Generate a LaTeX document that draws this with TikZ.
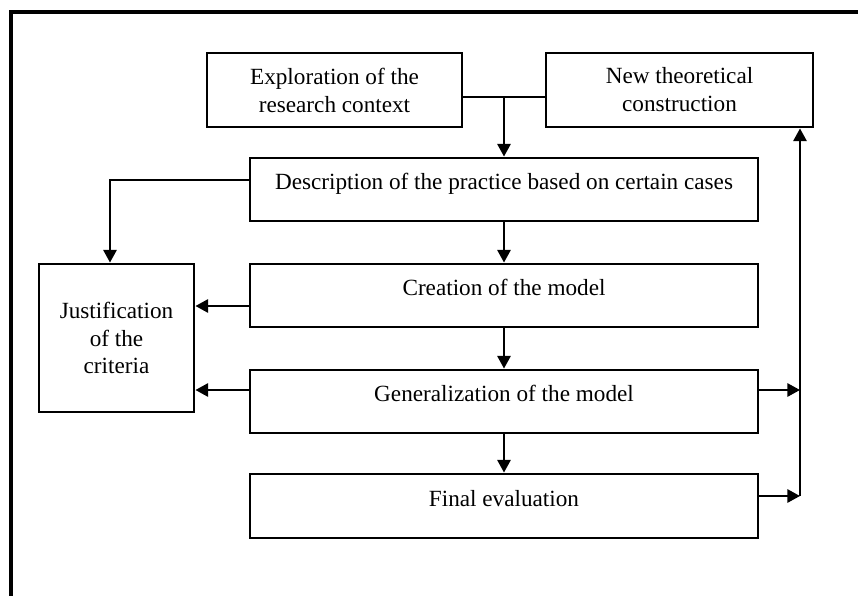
\documentclass[tikz,border=0pt]{standalone}
\usepackage{fontspec}
\setmainfont{Liberation Serif}
\usetikzlibrary{arrows.meta}

\tikzset{
  box/.style={draw, line width=2.2pt, inner sep=0pt, align=center,
    font=\fontsize{17.4}{20.5}\selectfont},
  widebox/.style={box, minimum width=508*0.75pt, minimum height=63*0.75pt,
    text height=8pt, text depth=8pt},
  link/.style={line width=1.5pt},
  arr/.style={link, -{Triangle[length=9.5pt,width=10pt]}},
}

\begin{document}
\begin{tikzpicture}[x=0.75pt,y=-0.75pt]
  \useasboundingbox (0,0) rectangle (858,596);
  \clip (0,0) rectangle (858,596);

  % outer frame (runs off the page on the right and bottom)
  \draw[line width=2.6pt] (11,12) rectangle (880,620);

  % boxes
  \node[box, minimum width=255*0.75pt, minimum height=74*0.75pt,
        font=\fontsize{17.4}{21}\selectfont]
    (expl) at (334.5,90) {Exploration of the\\research context};
  \node[box, minimum width=267*0.75pt, minimum height=74*0.75pt,
        font=\fontsize{17.4}{21}\selectfont]
    (newt) at (679.5,90) {New theoretical\\construction};
  \node[widebox] (desc) at (504,189.5)
    {Description of the practice based on certain cases};
  \node[widebox] (creat) at (504,295.5) {Creation of the model};
  \node[widebox] (gen) at (504,401.5) {Generalization of the model};
  \node[widebox, minimum height=64*0.75pt] (final) at (504,506)
    {Final evaluation};
  \node[box, minimum width=155*0.75pt, minimum height=148*0.75pt,
        font=\fontsize{17.4}{20.3}\selectfont]
    (just) at (116.5,338) {Justification\\of the\\criteria};

  % junction points of the connectors
  \coordinate (top) at (504,97);
  \coordinate (dleft) at (110,180);
  \coordinate (cy) at (0,306);
  \coordinate (gy) at (0,390);
  \coordinate (rg) at (800,390);
  \coordinate (rf) at (800,496);

  % top: both first boxes feed the description
  \draw[link] (expl.east |- top) -- (newt.west |- top);
  \draw[arr] (top) -- (top |- desc.north);

  % main column
  \draw[arr] (desc.south) -- (creat.north);
  \draw[arr] (creat.south) -- (gen.north);
  \draw[arr] (gen.south) -- (final.north);

  % into the criteria box
  \draw[arr] (desc.west |- dleft) -- (dleft) -- (dleft |- just.north);
  \draw[arr] (creat.west |- cy) -- (just.east |- cy);
  \draw[arr] (gen.west |- gy) -- (just.east |- gy);

  % feedback line on the right
  \draw[arr] (gen.east |- gy) -- (rg);
  \draw[arr] (final.east |- rf) -- (rf);
  \draw[arr] (rf) -- (rf |- newt.south);
\end{tikzpicture}
\end{document}
